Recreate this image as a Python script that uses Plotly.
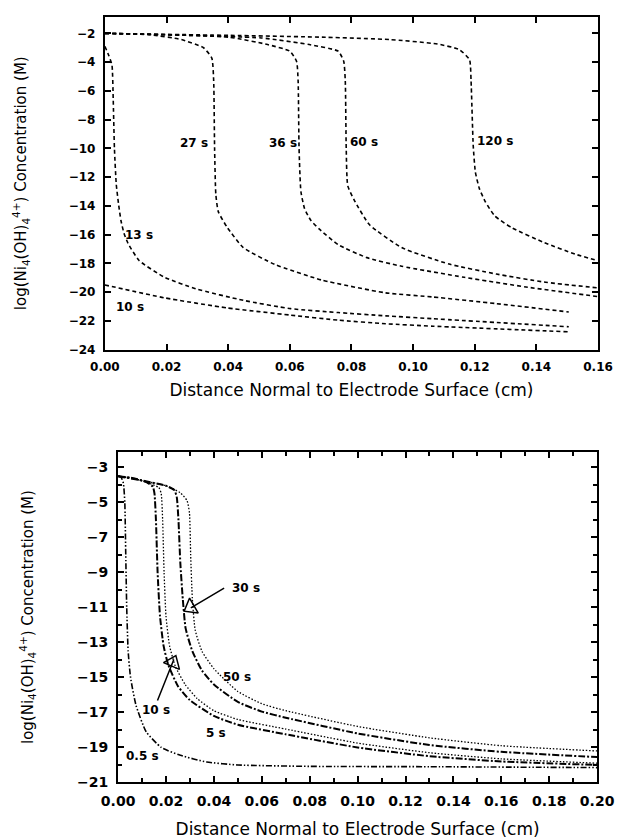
import plotly.graph_objects as go

# ---------------- Top panel data (log conc vs distance) ----------------
top_labels = ["10 s", "13 s", "27 s", "36 s", "60 s", "120 s"]

t10_x = [0, 0.0194, 0.0397, 0.0603, 0.0757, 0.0911, 0.1065, 0.1505]
t10_y = [-19.5, -20.4, -21.1, -21.6, -21.95, -22.2, -22.37, -22.76]

t13_x = [0, 0.0012, 0.0023, 0.0027, 0.0031, 0.0037, 0.0044, 0.0052, 0.0062, 0.0075,
         0.0111, 0.0194, 0.0295, 0.0449, 0.0603, 0.0757, 0.0911, 0.1065, 0.1505]
t13_y = [-2.9, -3.5, -4.2, -6.5, -10, -12.5, -13.8, -15.0, -15.9, -16.6,
         -17.8, -18.97, -19.77, -20.57, -21.15, -21.42, -21.65, -21.85, -22.41]

t27_x = [0, 0.0144, 0.0248, 0.032, 0.0347, 0.0353, 0.0356, 0.036, 0.0368, 0.0397,
         0.0449, 0.0551, 0.0705, 0.0911, 0.1065, 0.127, 0.1505]
t27_y = [-2, -2.09, -2.43, -3.0, -3.72, -5.3, -10, -13.2, -14.4, -15.5,
         -16.9, -18.07, -19.17, -20.05, -20.34, -20.8, -21.38]

t36_x = [0, 0.0403, 0.0528, 0.06, 0.0622, 0.0627, 0.063, 0.0636, 0.0648, 0.0668,
         0.0695, 0.0757, 0.085, 0.0963, 0.1166, 0.1372, 0.1597]
t36_y = [-2, -2.27, -2.78, -3.24, -3.95, -5.34, -10, -13.0, -14.2, -15.0,
         -15.6, -16.7, -17.6, -18.2, -18.97, -19.66, -20.3]

t60_x = [0, 0.0508, 0.0663, 0.0757, 0.0775, 0.078, 0.0783, 0.0788, 0.0809, 0.0858,
         0.0963, 0.1117, 0.127, 0.1425, 0.1597]
t60_y = [-2, -2.32, -2.78, -3.24, -3.95, -5.34, -10, -12.6, -13.6, -15.3,
         -16.9, -18.05, -18.74, -19.3, -19.7]

t120_x = [0, 0.0403, 0.0715, 0.0923, 0.1079, 0.115, 0.1183, 0.1188, 0.1195, 0.1202,
          0.1215, 0.1234, 0.1265, 0.132, 0.1425, 0.1526, 0.1597]
t120_y = [-2, -2.14, -2.27, -2.43, -2.74, -3.13, -3.83, -5.3, -9.8, -11.65,
          -12.8, -13.7, -14.7, -15.52, -16.55, -17.36, -17.8]

# label positions (data coords)
top_lab_x = [0.0082, 0.0112, 0.029, 0.0578, 0.0842, 0.1265]
top_lab_y = [-21.0, -16.0, -9.6, -9.6, -9.56, -9.5]

top_xticks = [0.00, 0.02, 0.04, 0.06, 0.08, 0.10, 0.12, 0.14, 0.16]
top_yticks = [-2, -4, -6, -8, -10, -12, -14, -16, -18, -20, -22, -24]

# ---------------- Bottom panel data ----------------
b05_x = [0, 0.0012, 0.0022, 0.0028, 0.0032, 0.0036, 0.0042, 0.0052, 0.0075, 0.0117,
         0.018, 0.026, 0.037, 0.05, 0.08, 0.13, 0.2]
b05_y = [-3.5, -3.55, -3.9, -5.0, -8.0, -11.0, -13.5, -15.0, -16.6, -18.1,
         -19.0, -19.45, -19.83, -20.0, -20.08, -20.1, -20.15]

b5_x = [0, 0.006, 0.012, 0.0145, 0.0152, 0.0158, 0.0165, 0.0175, 0.019, 0.021,
        0.025, 0.03, 0.04, 0.05, 0.07, 0.1, 0.13, 0.16, 0.2]
b5_y = [-3.5, -3.6, -3.85, -4.1, -4.5, -6.0, -9.0, -11.5, -13.2, -14.3,
        -15.5, -16.3, -17.2, -17.7, -18.25, -19.0, -19.5, -19.8, -20.0]

b10_x = [0, 0.006, 0.012, 0.017, 0.018, 0.0186, 0.0192, 0.02, 0.0215, 0.024,
         0.028, 0.033, 0.04, 0.05, 0.07, 0.1, 0.13, 0.16, 0.2]
b10_y = [-3.5, -3.6, -3.85, -4.15, -4.5, -6.0, -9.0, -11.5, -13.2, -14.4,
         -15.4, -16.2, -16.9, -17.4, -17.95, -18.75, -19.3, -19.65, -19.9]

b30_x = [0, 0.01, 0.02, 0.0235, 0.0245, 0.0252, 0.026, 0.027, 0.0282, 0.031,
         0.035, 0.04, 0.05, 0.06, 0.07, 0.1, 0.13, 0.16, 0.2]
b30_y = [-3.5, -3.75, -4.05, -4.3, -4.7, -6.0, -8.5, -10.5, -12.2, -13.5,
         -14.6, -15.4, -16.4, -16.95, -17.3, -18.2, -18.86, -19.25, -19.55]

b50_x = [0, 0.01, 0.02, 0.026, 0.0288, 0.0298, 0.0303, 0.031, 0.0322, 0.035,
         0.04, 0.05, 0.06, 0.07, 0.1, 0.13, 0.16, 0.2]
b50_y = [-3.5, -3.75, -4.05, -4.45, -4.9, -5.6, -8.0, -10.5, -12.3, -13.5,
         -14.5, -15.8, -16.5, -16.9, -17.8, -18.45, -18.9, -19.2]

bot_labels = ["0.5 s", "5 s", "10 s", "30 s", "50 s"]
bot_lab_x = [0.0103, 0.0409, 0.0158, 0.0533, 0.0496]
bot_lab_y = [-19.5, -18.15, -16.87, -9.9, -15.0]

# arrows: tail (near label) -> tip (on curve)
arrow_tail_x = [0.0162, 0.0449]
arrow_tail_y = [-16.4, -9.85]
arrow_tip_x = [0.0242, 0.0282]
arrow_tip_y = [-13.66, -11.2]
arrow_head_x = [0.0229, 0.0303]
arrow_head_y = [-14.15, -11.0]
arrow_head_angle = [23, 240]

bot_xticks = [0.00, 0.02, 0.04, 0.06, 0.08, 0.10, 0.12, 0.14, 0.16, 0.18, 0.20]
bot_yticks = [-3, -5, -7, -9, -11, -13, -15, -17, -19, -21]

# ---------------- Figure ----------------
W, H = 634, 839
FONT = "DejaVu Sans"
fig = go.Figure()

top_series = [(t10_x, t10_y), (t13_x, t13_y), (t27_x, t27_y),
              (t36_x, t36_y), (t60_x, t60_y), (t120_x, t120_y)]
for (xs, ys), nm in zip(top_series, top_labels):
    fig.add_trace(go.Scatter(x=xs, y=ys, mode="lines", name=nm, xaxis="x", yaxis="y",
                             line=dict(color="black", width=1.6, dash="4px,3px",
                                       shape="spline", smoothing=0.5),
                             showlegend=False, hoverinfo="skip"))

dash_dot = "7px,2px,2px,2px"
dash_dot_dot = "6px,2px,1.5px,2px,1.5px,2px"
dotted = "1.5px,1.8px"
bot_series = [(b05_x, b05_y, dash_dot_dot, 1.6), (b5_x, b5_y, dash_dot, 2.0),
              (b10_x, b10_y, dotted, 1.3), (b30_x, b30_y, dash_dot, 2.0),
              (b50_x, b50_y, dotted, 1.3)]
for (xs, ys, dsh, wd), nm in zip(bot_series, bot_labels):
    fig.add_trace(go.Scatter(x=xs, y=ys, mode="lines", name=nm, xaxis="x2", yaxis="y2",
                             line=dict(color="black", width=wd, dash=dsh,
                                       shape="spline", smoothing=0.5),
                             showlegend=False, hoverinfo="skip"))

# hollow arrow heads
fig.add_trace(go.Scatter(x=arrow_head_x, y=arrow_head_y, mode="markers", xaxis="x2", yaxis="y2",
                         marker=dict(symbol="triangle-up-open", size=15, angle=arrow_head_angle,
                                     color="black", line=dict(width=1.5, color="black")),
                         showlegend=False, hoverinfo="skip"))

annotations = []
lab_font = dict(family=FONT, size=12, color="black", weight=700)
for t, x, y in zip(top_labels, top_lab_x, top_lab_y):
    annotations.append(dict(x=x, y=y, xref="x", yref="y", text=t, showarrow=False, font=lab_font))
for t, x, y in zip(bot_labels, bot_lab_x, bot_lab_y):
    annotations.append(dict(x=x, y=y, xref="x2", yref="y2", text=t, showarrow=False, font=lab_font))
for tx, ty, hx, hy in zip(arrow_tail_x, arrow_tail_y, arrow_tip_x, arrow_tip_y):
    annotations.append(dict(x=hx, y=hy, ax=tx, ay=ty, xref="x2", yref="y2", axref="x2", ayref="y2",
                            text="", showarrow=True, arrowhead=0, arrowwidth=1.5,
                            arrowcolor="black", standoff=6))

xtitle_font = dict(family=FONT, size=17, color="black")
ytitle_font = dict(family=FONT, size=15, color="black")


def axis_common(tsize):
    return dict(showgrid=False, zeroline=False, showline=True, linecolor="black", linewidth=2,
                mirror="ticks", ticks="inside", ticklen=6, tickwidth=1.5, tickcolor="black",
                tickfont=dict(family=FONT, size=tsize, color="black", weight=700),
                ticklabelstandoff=5)


ytitle = "log(Ni<sub>4</sub>(OH)<sub>4</sub><sup>4+</sup>) Concentration (M)"
xtitle = "Distance Normal to Electrode Surface (cm)"

fig.update_layout(
    width=W, height=H, margin=dict(l=0, r=0, t=0, b=0),
    paper_bgcolor="white", plot_bgcolor="white",
    xaxis=dict(domain=[93 / W, 615 / W], anchor="y", range=[0, 0.16],
               tickvals=top_xticks, tickformat=".2f",
               title=dict(text=xtitle, font=xtitle_font, standoff=11), **axis_common(12)),
    yaxis=dict(domain=[1 - 353 / H, 1 - 17 / H], anchor="x", range=[-24, -0.85],
               tickvals=top_yticks,
               title=dict(text=ytitle, font=ytitle_font, standoff=38), **axis_common(12)),
    xaxis2=dict(domain=[107 / W, 614 / W], anchor="y2", range=[0, 0.2],
                tickvals=bot_xticks, tickformat=".2f",
                minor=dict(dtick=0.01, ticks="inside", ticklen=4, tickcolor="black"),
                title=dict(text=xtitle, font=xtitle_font, standoff=15), **axis_common(14)),
    yaxis2=dict(domain=[1 - 790 / H, 1 - 456 / H], anchor="x2", range=[-21, -2.1],
                tickvals=bot_yticks,
                minor=dict(dtick=1, tick0=-21, ticks="inside", ticklen=4, tickcolor="black"),
                title=dict(text=ytitle, font=ytitle_font, standoff=40), **axis_common(14)),
    annotations=annotations,
)

fig.write_html("out.html")
